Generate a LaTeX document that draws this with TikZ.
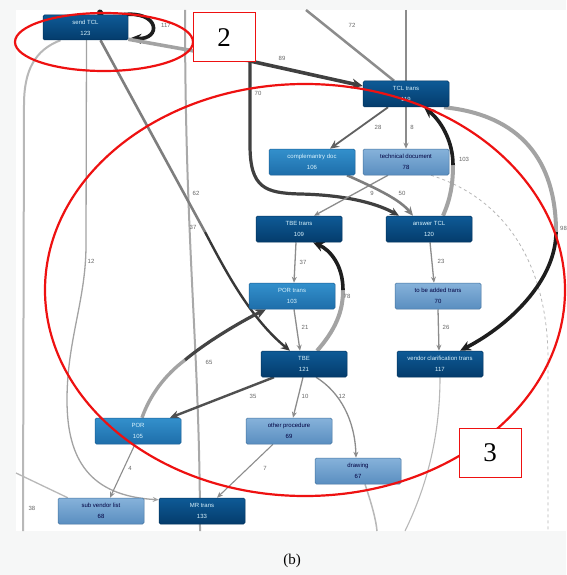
\documentclass[tikz,border=0pt]{standalone}
\usepackage{fontspec}
\setmainfont{Liberation Sans}
\newfontfamily\capfont{Liberation Serif}
\usetikzlibrary{arrows.meta,backgrounds}
\definecolor{dkA}{HTML}{0E5A96}
\definecolor{dkB}{HTML}{043C6C}
\definecolor{dkE}{HTML}{03345E}
\definecolor{mdA}{HTML}{3390CC}
\definecolor{mdB}{HTML}{1E6EAA}
\definecolor{mdE}{HTML}{1A5F94}
\definecolor{ltA}{HTML}{86B2DA}
\definecolor{ltB}{HTML}{5A8EC0}
\definecolor{ltE}{HTML}{44739F}
\definecolor{eg}{HTML}{8C8C8C}
\definecolor{egd}{HTML}{505050}
\definecolor{egk}{HTML}{1E1E1E}
\definecolor{egl}{HTML}{B8B8B8}
\definecolor{annred}{HTML}{EE1111}
\definecolor{pagebg}{HTML}{F6F7F7}
\begin{document}
\begin{tikzpicture}[x=1pt,y=-1pt,
 box/.style={rounded corners=1.5pt, minimum width=86pt, minimum height=26pt, inner sep=0pt, align=center, font=\fontsize{6}{11}\selectfont, line width=0.5pt},
 dk/.style={box, draw=dkE, top color=dkA, bottom color=dkB, text=white!85!cyan},
 md/.style={box, draw=mdE, top color=mdA, bottom color=mdB, text=white!85!cyan},
 lt/.style={box, draw=ltE, top color=ltA, bottom color=ltB, text=black!75!blue},
 elab/.style={font=\fontsize{6}{7}\selectfont, text=black!60, inner sep=1pt},
 thinarr/.style={draw=eg, line width=1.3pt, -{Stealth[length=6pt,width=5pt]}},
 medarr/.style={draw=egd, line width=2.4pt, -{Stealth[length=9pt,width=8pt]}},
 bigarr/.style={draw=egk, line width=3.6pt, -{Stealth[length=11pt,width=10pt]}},
 grayline/.style={draw=eg!80, line width=3.6pt},
 lightline/.style={draw=egl, line width=1.3pt},
 redring/.style={draw=annred, line width=2.2pt},
 redbox/.style={draw=annred, line width=1pt, fill=white, minimum width=62pt, minimum height=49pt, inner sep=0pt, font=\capfont\fontsize{27}{30}\selectfont}
]
\useasboundingbox (0,0) rectangle (566,575);

% nodes
\node[dk] (sendTCL) at (85.5,27.5) [minimum width=85pt, minimum height=25pt] {send TCL\\123};
\node[dk] (TCLtrans) at (406,94) {TCL trans\\119};
\node[md] (compdoc) at (312,162) {complemantry doc\\106};
\node[lt] (techdoc) at (406,162) {technical document\\78};
\node[dk] (TBEtrans) at (299,229) {TBE trans\\109};
\node[dk] (answerTCL) at (429,229) {answer TCL\\120};
\node[md] (PORtrans) at (292,296) {POR trans\\103};
\node[lt] (tobeadded) at (438,296) {to be added trans\\70};
\node[dk] (TBE) at (304,364) {TBE\\121};
\node[dk] (vendorclar) at (440,364) {vendor clarification trans\\117};
\node[md] (POR) at (138,431) {POR\\105};
\node[lt] (otherproc) at (289,431) {other procedure\\69};
\node[lt] (drawing) at (358,471) {drawing\\67};
\node[lt] (subvendor) at (101,511) {sub vendor list\\68};
\node[dk] (MRtrans) at (202,511) {MR trans\\133};

% free ends
\coordinate (c38b) at (23,531);
\coordinate (c37t) at (185,10);
\coordinate (c37b) at (200,531);
\coordinate (c72t) at (306,10);
\coordinate (c8t) at (406,10);
\coordinate (c89) at (250,61);
\coordinate (c98) at (556,232);
\coordinate (c103) at (453,165);
\coordinate (c78) at (343,290);
\coordinate (c65) at (185,360);
\coordinate (c62) at (205,232);
\coordinate (cleft) at (16,473);
\coordinate (cdrb) at (377,531);
\coordinate (cvcb) at (405,531);
\coordinate (cdash) at (548,531);
\coordinate (ctop) at (100,12.5);

\begin{scope}[on background layer]
\fill[pagebg] (0,0) rectangle (566,575);
\fill[white] (16,10) rectangle (566,531);

% long light lines
\draw[lightline, line width=2pt] ([xshift=-25]sendTCL.south) .. controls (35,50) and (24,70) .. (24,105) -- (c38b);
\draw[lightline, draw=eg!75, line width=2pt] (c37t) .. controls (185,250) and (200,350) .. (c37b);
\draw[lightline] (cleft) -- ([xshift=10]subvendor.north west);
\draw[lightline, line width=1.5pt] ([xshift=7]drawing.south) .. controls (372,505) and (376,520) .. (cdrb);
\draw[lightline, line width=1.1pt] (vendorclar.south) .. controls (440,440) and (425,490) .. (cvcb);
\draw[egl, line width=0.8pt, dashed] ([xshift=25]techdoc.south) .. controls (510,200) and (548,270) .. (548,360) -- (cdash);

% 12 (send TCL -> MR trans)
\draw[thinarr, draw=eg!80] ([xshift=1]sendTCL.south) -- (86,245) .. controls (86,300) and (67,340) .. (67,400) .. controls (67,460) and (90,496) .. ([yshift=-2pt]MRtrans.north west);

% top
\draw[draw=egk, line width=6pt, line cap=round] (ctop) -- ([xshift=15]sendTCL.north);
\draw[draw=eg, line width=2.5pt] (c72t) -- ([xshift=-12]TCLtrans.north);
\draw[draw=eg, line width=1.3pt] (c8t) -- (TCLtrans.north);

% 117 self loop
\draw[bigarr] ([xshift=-6]sendTCL.north east) .. controls (160,10) and (162,40) .. ([xshift=2,yshift=2]sendTCL.south east);

% 89 and 70
\draw[grayline] ([yshift=1]sendTCL.south east) -- (c89);
\draw[bigarr, draw=egd!80!black] (c89) -- ([yshift=8]TCLtrans.west);
\draw[medarr, draw=egd!80!black, line width=3.2pt] (c89) -- (250,145) .. controls (250,188) and (265,193) .. (300,194) .. controls (350,195) and (380,205) .. ([xshift=-30]answerTCL.north);

% 62
\draw[draw=eg!90!black, line width=2.6pt] ([xshift=15]sendTCL.south) -- (c62);
\draw[medarr, draw=egd!70!black] (c62) .. controls (225,270) and (250,318) .. ([xshift=-14]TBE.north);

% TCL trans out
\draw[medarr, draw=egd!90, line width=1.8pt] ([xshift=-18]TCLtrans.south) -- ([xshift=18]compdoc.north);
\draw[thinarr] (TCLtrans.south) -- (techdoc.north);
\draw[grayline, line width=4pt] ([xshift=38]TCLtrans.south) .. controls (520,115) and (556,160) .. (c98);
\draw[bigarr] (c98) .. controls (556,280) and (510,325) .. ([xshift=20]vendorclar.north);

% 103
\draw[grayline, line width=4pt] ([xshift=14]answerTCL.north) .. controls (450,200) and (453,185) .. (c103);
\draw[bigarr] (c103) .. controls (453,140) and (440,120) .. ([xshift=18]TCLtrans.south);

% 9, 50
\draw[thinarr] ([xshift=-18]techdoc.south) -- ([xshift=15]TBEtrans.north);
\draw[medarr, draw=eg!90!black, line width=2.6pt] ([xshift=35]compdoc.south) .. controls (380,190) and (400,200) .. ([xshift=-16]answerTCL.north);

% middle
\draw[thinarr] ([xshift=-3]TBEtrans.south) -- ([xshift=2]PORtrans.north);
\draw[thinarr] ([xshift=2]PORtrans.south) -- ([xshift=-4]TBE.north);
\draw[thinarr] ([xshift=1]answerTCL.south) -- ([xshift=-4]tobeadded.north);
\draw[thinarr] (tobeadded.south) -- ([xshift=-1]vendorclar.north);

% 78
\draw[grayline, line width=4pt] ([xshift=13]TBE.north) .. controls (340,325) and (343,305) .. (c78);
\draw[bigarr] (c78) .. controls (343,265) and (330,250) .. ([xshift=14]TBEtrans.south);

% 65
\draw[grayline, line width=3.4pt] ([xshift=4]POR.north) .. controls (150,395) and (165,375) .. (c65);
\draw[bigarr, draw=egd!85!black, line width=3.2pt] (c65) .. controls (205,343) and (240,322) .. ([xshift=-26]PORtrans.south);

% TBE out
\draw[medarr] ([xshift=-30]TBE.south) -- ([xshift=32]POR.north);
\draw[thinarr] ([xshift=-1]TBE.south) -- ([xshift=4]otherproc.north);
\draw[thinarr] ([xshift=12]TBE.south) .. controls (340,392) and (355,420) .. ([xshift=-2]drawing.north);

% bottom
\draw[thinarr, line width=1.1pt] ([xshift=-3]POR.south) -- ([xshift=9]subvendor.north);
\draw[thinarr, line width=1.1pt] ([xshift=-16]otherproc.south) -- ([xshift=15]MRtrans.north);
\end{scope}

% edge labels
\node[elab] (l117) at (166,25) {117};
\node[elab] (l89) at (282,58) {89};
\node[elab] (l70) at (258,93) {70};
\node[elab] (l72) at (352,25) {72};
\node[elab] (l62) at (196,193) {62};
\node[elab] (l37a) at (193,227) {37};
\node[elab] (l12a) at (91,261) {12};
\node[elab] (l28) at (378,127) {28};
\node[elab] (l8) at (412,127) {8};
\node[elab] (l103) at (464,159) {103};
\node[elab] (l9) at (372,193) {9};
\node[elab] (l50) at (402,193) {50};
\node[elab, anchor=west] (l98) at (559,228) {98};
\node[elab] (l37b) at (303,262) {37};
\node[elab] (l78) at (347,296) {78};
\node[elab] (l23) at (441,261) {23};
\node[elab] (l21) at (305,327) {21};
\node[elab] (l26) at (446,327) {26};
\node[elab] (l65) at (209,362) {65};
\node[elab] (l35) at (253,396) {35};
\node[elab] (l10) at (305,396) {10};
\node[elab] (l12b) at (342,396) {12};
\node[elab] (l4) at (130,468) {4};
\node[elab] (l7) at (265,468) {7};
\node[elab] (l38) at (32,508) {38};

% annotations
\draw[redring] (104,42) ellipse [x radius=89pt, y radius=29pt];
\draw[redring] (305,290) ellipse [x radius=260pt, y radius=206pt];
\node[redbox] (lab2) at (224,37.5) {2};
\node[redbox] (lab3) at (490,452.5) {3};
\node[font=\capfont\fontsize{15}{18}\selectfont] (cap) at (292,561) {(b)};
\end{tikzpicture}
\end{document}
